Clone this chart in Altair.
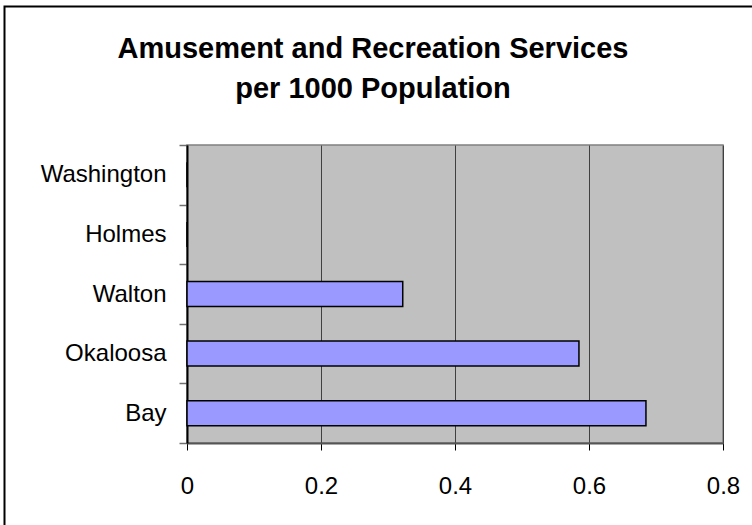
import altair as alt
import pandas as pd

# County values (services per 1000 residents), listed top to bottom
counties = ["Washington", "Holmes", "Walton", "Okaloosa", "Bay"]
rates = [0.0, 0.0, 0.322, 0.585, 0.685]
x_ticks = [0, 0.2, 0.4, 0.6, 0.8]
title_lines = ["Amusement and Recreation Services", "per 1000 Population"]

df = pd.DataFrame({"county": counties, "rate": rates})

FONT = "Liberation Sans"

bars = (
    alt.Chart(df)
    .mark_bar(fill="#9999FF", stroke="#000000", strokeWidth=1.5, height={"band": 0.42})
    .encode(
        y=alt.Y(
            "county:N",
            sort=counties,
            scale=alt.Scale(paddingInner=0, paddingOuter=0),
            axis=alt.Axis(
                title=None,
                labelFont=FONT,
                labelFontSize=24,
                labelColor="#000000",
                labelPadding=13,
                domainColor="#000000",
                domainWidth=2,
                tickColor="#707070",
                tickWidth=1.5,
                tickSize=8,
                tickBand="extent",
                grid=False,
            ),
        ),
        x=alt.X(
            "rate:Q",
            scale=alt.Scale(domain=[0, 0.8], nice=False, zero=True),
            axis=alt.Axis(
                title=None,
                values=x_ticks,
                format="~g",
                labelFont=FONT,
                labelFontSize=24,
                labelColor="#000000",
                labelPadding=24,
                labelFlush=False,
                domainColor="#555555",
                domainWidth=2,
                tickColor="#000000",
                tickWidth=1,
                tickSize=7,
                grid=True,
                gridColor="#404040",
                gridWidth=1,
            ),
        ),
    )
)

# Thin black frame around the whole chart
frame = (
    alt.Chart(pd.DataFrame({"k": [0]}))
    .mark_rect(fill=None, stroke="#000000", strokeWidth=2)
    .encode(
        x=alt.value(-182.5),
        x2=alt.value(580),
        y=alt.value(-138.5),
        y2=alt.value(400),
    )
)

chart = (
    alt.layer(bars, frame)
    .properties(
        width=536,
        height=298,
        autosize=alt.AutoSizeParams(type="none"),
        padding={"left": 187, "top": 145, "right": 29, "bottom": 82},
        background="#FFFFFF",
        title=alt.TitleParams(
            text=title_lines,
            font=FONT,
            fontSize=29,
            fontWeight="bold",
            color="#000000",
            lineHeight=40,
            anchor="middle",
            baseline="alphabetic",
            offset=-121.5,
            dx=-82,
        ),
    )
    .configure_view(fill="#C0C0C0", stroke="#808080", strokeWidth=1.5)
)

chart.save("out.html", embed_options={"renderer": "svg", "actions": False})
